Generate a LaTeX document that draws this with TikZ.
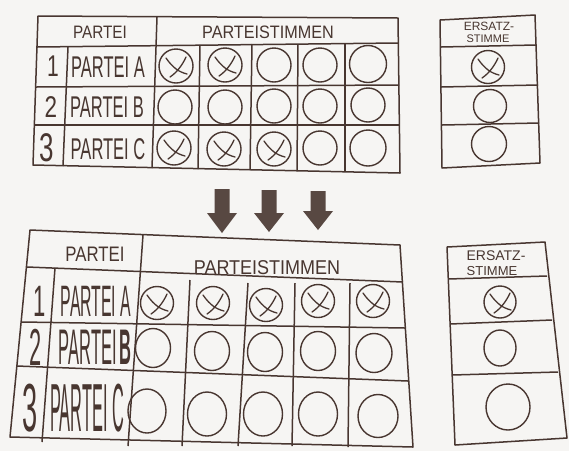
\documentclass[tikz,border=0pt]{standalone}
\usepackage{fontspec}
\usepackage{graphicx}
\usetikzlibrary{shapes.geometric}
\setmainfont{Liberation Sans}
\definecolor{ink}{RGB}{72,54,48}
\definecolor{paper}{RGB}{246,245,243}
\definecolor{arrowink}{RGB}{88,72,66}
\newcommand{\narrow}[2]{\scalebox{#1}[1]{#2}}
\newcommand{\fs}[1]{\fontsize{#1}{#1}\selectfont}

\tikzstyle{pen} = [
draw=ink,
line width=1.5pt,
line join=round
]
\tikzstyle{lbl} = [
text=ink,
inner sep=0pt
]
\tikzstyle{bigarrow} = [
fill=arrowink
]
\tikzset{
vote/.style={circle, draw=ink, line width=1.4pt, minimum size=#1, inner sep=0pt},
vote/.default=34,
ovalvote/.style 2 args={ellipse, draw=ink, line width=1.4pt, minimum width=#1, minimum height=#2, inner sep=0pt},
votex/.style={vote=#1, path picture={
\draw[ink, line width=1.3pt, line cap=round, shift={(path picture bounding box.center)}, scale=#1/34]
(-10,-8) .. controls (-3,2) and (3,6) .. (11,8)
(10,-9) .. controls (6,0) and (0,7) .. (-6,11);}},
votex/.default=34
}

\begin{document}
\begin{tikzpicture}[x=1pt, y=-1pt]

\fill[paper] (0,0) rectangle (569,451);
\useasboundingbox (0,0) rectangle (569,451);

% Upper ballot
\draw[pen] (38,16) -- (398,18) -- (400,173) -- (33,165) -- cycle;
\draw[pen] (37,47) -- (398,43);
\draw[pen] (36,87) -- (399,85);
\draw[pen] (35,125) -- (399,125);
\draw[pen] (68,47) -- (63,166);
\draw[pen] (157,17) -- (152,168);
\draw[pen] (200,45) -- (198,169);
\draw[pen] (252,44) -- (250,170);
\draw[pen] (298,44) -- (297,171);
\draw[pen] (345,43) -- (345,172);

\node (upPartei) [lbl, font=\fs{18}] at (100,32) {\narrow{0.85}{PARTEI}};
\node (upStimmen) [lbl, font=\fs{18}] at (268,32) {\narrow{0.9}{PARTEISTIMMEN}};
\node (upNr1) [lbl, font=\fs{30}] at (53,66) {\narrow{0.7}{1}};
\node (upNr2) [lbl, font=\fs{30}] at (51,107) {\narrow{0.75}{2}};
\node (upNr3) [lbl, font=\fs{40}] at (47,148) {\narrow{0.65}{3}};
\node (upA) [lbl, font=\fs{30}] at (108,67) {\narrow{0.55}{PARTEI A}};
\node (upB) [lbl, font=\fs{30}] at (107,107) {\narrow{0.55}{PARTEI B}};
\node (upC) [lbl, font=\fs{30}] at (108,149) {\narrow{0.55}{PARTEI C}};

\node (upA1) [votex] at (176,66) {};
\node (upA2) [votex] at (225,65) {};
\node (upA3) [vote] at (274,65) {};
\node (upA4) [vote] at (320,65) {};
\node (upA5) [vote=37] at (368,64) {};
\node (upB1) [vote] at (175,107) {};
\node (upB2) [vote] at (225,107) {};
\node (upB3) [vote] at (274,106) {};
\node (upB4) [vote] at (320,106) {};
\node (upB5) [vote] at (368,105) {};
\node (upC1) [votex] at (174,148) {};
\node (upC2) [votex] at (224,149) {};
\node (upC3) [votex] at (274,149) {};
\node (upC4) [vote] at (320,148) {};
\node (upC5) [vote=36] at (368,148) {};

% Upper replacement vote
\draw[pen] (440,20) -- (535,15) -- (540,163) -- (442,168) -- cycle;
\draw[pen] (441,47) -- (536,45);
\draw[pen] (441,87) -- (538,85);
\draw[pen] (442,125) -- (539,123);
\node (upErsatz) [lbl, font=\fs{12}] at (489,26) {ERSATZ-};
\node (upStimme) [lbl, font=\fs{11}] at (488,39) {STIMME};
\node (upE1) [votex=33] at (488,67) {};
\node (upE2) [vote=33] at (490,106) {};
\node (upE3) [vote=35] at (489,144) {};

% Arrows
\fill[bigarrow, shift={(222,0)}] (-7.5,189) -- (7.5,189) -- (7.5,213) -- (15,213) -- (0,233) -- (-15,213) -- (-7.5,213) -- cycle;
\fill[bigarrow, shift={(269,0)}] (-7.5,190) -- (7.5,190) -- (7.5,213) -- (15,213) -- (0,232) -- (-15,213) -- (-7.5,213) -- cycle;
\fill[bigarrow, shift={(318,0)}] (-7.5,191) -- (7.5,191) -- (7.5,211) -- (15,211) -- (0,230) -- (-15,211) -- (-7.5,211) -- cycle;

% Lower ballot
\draw[pen] (30,230) -- (400,245) -- (413,447) -- (10,437) -- cycle;
\draw[pen] (27,267) -- (403,282);
\draw[pen] (22,322) -- (405,328);
\draw[pen] (17,366) -- (408,381);
\draw[pen] (55,268) -- (42,442);
\draw[pen] (143,235) -- (128,446);
\draw[pen] (190,280) -- (182,446);
\draw[pen] (248,283) -- (238,446);
\draw[pen] (295,283) -- (292,446);
\draw[pen] (350,283) -- (348,447);

\node (loPartei) [lbl, font=\fs{21}] at (95,254) {\narrow{0.8}{PARTEI}};
\node (loStimmen) [lbl, font=\fs{20}] at (267,268) {\narrow{0.9}{PARTEISTIMMEN}};
\node (loNr1) [lbl, font=\fs{44}] at (40,301) {\narrow{0.5}{1}};
\node (loNr2) [lbl, font=\fs{52}] at (36,347) {\narrow{0.42}{2}};
\node (loNr3) [lbl, font=\fs{68}] at (30,408) {\narrow{0.4}{3}};
\node (loA) [lbl, font=\fs{44}] at (96,301) {\narrow{0.36}{PARTEI A}};
\node (loB) [lbl, font=\fs{50}] at (95,347) {\narrow{0.33}{PARTEI\,\textbf{B}}};
\node (loC) [lbl, font=\fs{68}] at (87,408) {\narrow{0.24}{PARTEI C}};

\node (loA1) [votex=33] at (157,303) {};
\node (loA2) [votex=33] at (213,303) {};
\node (loA3) [votex=33] at (266,305) {};
\node (loA4) [votex=33] at (318,301) {};
\node (loA5) [votex=33] at (373,301) {};
\node (loB1) [ovalvote={35}{39}] at (153,348) {};
\node (loB2) [ovalvote={35}{39}] at (212,351) {};
\node (loB3) [ovalvote={35}{39}] at (265,352) {};
\node (loB4) [ovalvote={35}{39}] at (318,351) {};
\node (loB5) [ovalvote={36}{39}] at (374,353) {};
\node (loC1) [ovalvote={38}{44}] at (147,411) {};
\node (loC2) [ovalvote={39}{44}] at (207,414) {};
\node (loC3) [ovalvote={39}{44}] at (263,414) {};
\node (loC4) [ovalvote={39}{44}] at (318,414) {};
\node (loC5) [ovalvote={40}{43}] at (378,416) {};

% Lower replacement vote
\draw[pen] (447,247) -- (545,242) -- (567,438) -- (455,445) -- cycle;
\draw[pen] (448,279) -- (547,276);
\draw[pen] (450,324) -- (552,320);
\draw[pen] (452,375) -- (558,372);
\node (loErsatz) [lbl, font=\fs{14}] at (496,256) {ERSATZ-};
\node (loStimme) [lbl, font=\fs{13}] at (492,271) {STIMME};
\node (loE1) [votex=32] at (500,302) {};
\node (loE2) [ovalvote={32}{36}] at (500,348) {};
\node (loE3) [ovalvote={44}{46}] at (508,407) {};

\end{tikzpicture}
\end{document}
